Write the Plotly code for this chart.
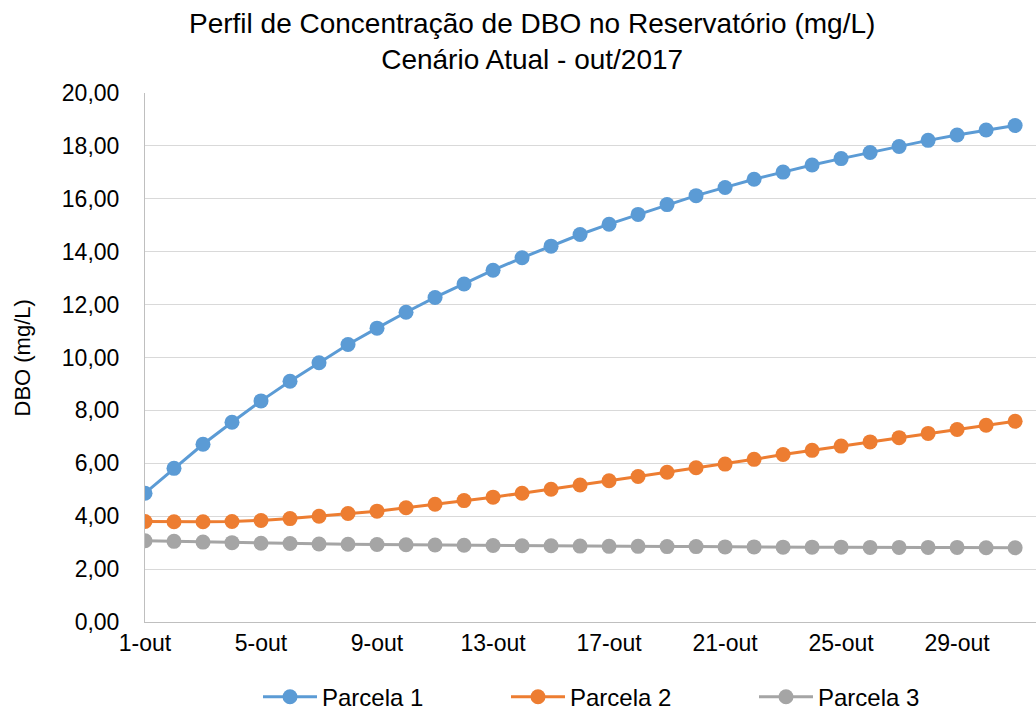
import plotly.graph_objects as go

# Days of October 2017
dias = list(range(1, 32))

# BOD concentration per plot (mg/L)
parcela_1 = [4.87, 5.81, 6.72, 7.55, 8.36, 9.10, 9.80, 10.49, 11.11, 11.71,
             12.27, 12.78, 13.30, 13.77, 14.21, 14.65, 15.04, 15.41, 15.78, 16.12,
             16.43, 16.74, 17.01, 17.28, 17.52, 17.75, 17.98, 18.21, 18.41, 18.60, 18.77]
parcela_2 = [3.80, 3.79, 3.79, 3.80, 3.84, 3.91, 4.00, 4.10, 4.19, 4.32,
             4.45, 4.59, 4.72, 4.87, 5.02, 5.18, 5.34, 5.50, 5.66, 5.83,
             5.97, 6.15, 6.33, 6.49, 6.65, 6.81, 6.97, 7.13, 7.28, 7.44, 7.59]
parcela_3 = [3.07, 3.05, 3.02, 3.00, 2.98, 2.97, 2.95, 2.94, 2.93, 2.92,
             2.91, 2.90, 2.89, 2.88, 2.88, 2.87, 2.86, 2.86, 2.85, 2.85,
             2.84, 2.84, 2.83, 2.83, 2.83, 2.82, 2.82, 2.82, 2.82, 2.81, 2.81]

tick_dias = [1, 5, 9, 13, 17, 21, 25, 29]
tick_labels = [f"{d}-out" for d in tick_dias]

series = [
    ("Parcela 1", parcela_1, "#5B9BD5"),
    ("Parcela 2", parcela_2, "#ED7D31"),
    ("Parcela 3", parcela_3, "#A5A5A5"),
]

FONT = "Liberation Sans, Arial, sans-serif"
PLOT_L, PLOT_W = 145, 891

fig = go.Figure()
for nome, valores, cor in series:
    fig.add_trace(go.Scatter(
        x=dias, y=valores, name=nome, mode="lines+markers",
        line=dict(color=cor, width=3),
        marker=dict(color=cor, size=15),
    ))

fig.update_layout(
    width=1036, height=715,
    margin=dict(l=PLOT_L, r=0, t=93, b=93),
    paper_bgcolor="white", plot_bgcolor="white",
    separators=",.",
    font=dict(family=FONT, size=23, color="#000000"),
    showlegend=True,
    legend=dict(
        orientation="h", x=(258 - PLOT_L) / PLOT_W, xanchor="left",
        yref="container", y=0.025, yanchor="middle",
        font=dict(size=24), entrywidth=179, itemwidth=54,
    ),
    annotations=[
        dict(text="Perfil de Concentração de DBO no Reservatório (mg/L)<br>Cenário Atual - out/2017",
             xref="paper", yref="paper", x=(532 - PLOT_L) / PLOT_W, y=1, yshift=87,
             xanchor="center", yanchor="top", showarrow=False,
             font=dict(size=28, family=FONT)),
        dict(text="DBO (mg/L)", textangle=-90,
             xref="paper", yref="paper", x=(22 - PLOT_L) / PLOT_W, y=0.5,
             xanchor="center", yanchor="middle", showarrow=False,
             font=dict(size=22, family=FONT)),
    ],
)

fig.update_xaxes(
    range=[1, 31.72], tickmode="array", tickvals=tick_dias, ticktext=tick_labels,
    showgrid=False, zeroline=False,
    showline=True, linecolor="#BFBFBF", linewidth=1,
    ticks="", tickfont=dict(size=23), ticklabelstandoff=0,
)
fig.update_yaxes(
    range=[0, 20], dtick=2, tickformat=".2f",
    showgrid=True, gridcolor="#D9D9D9", gridwidth=1,
    zeroline=False, showline=True, linecolor="#BFBFBF", linewidth=1,
    ticks="", tickfont=dict(size=23), ticklabelstandoff=20,
)

fig.write_html("out.html")
